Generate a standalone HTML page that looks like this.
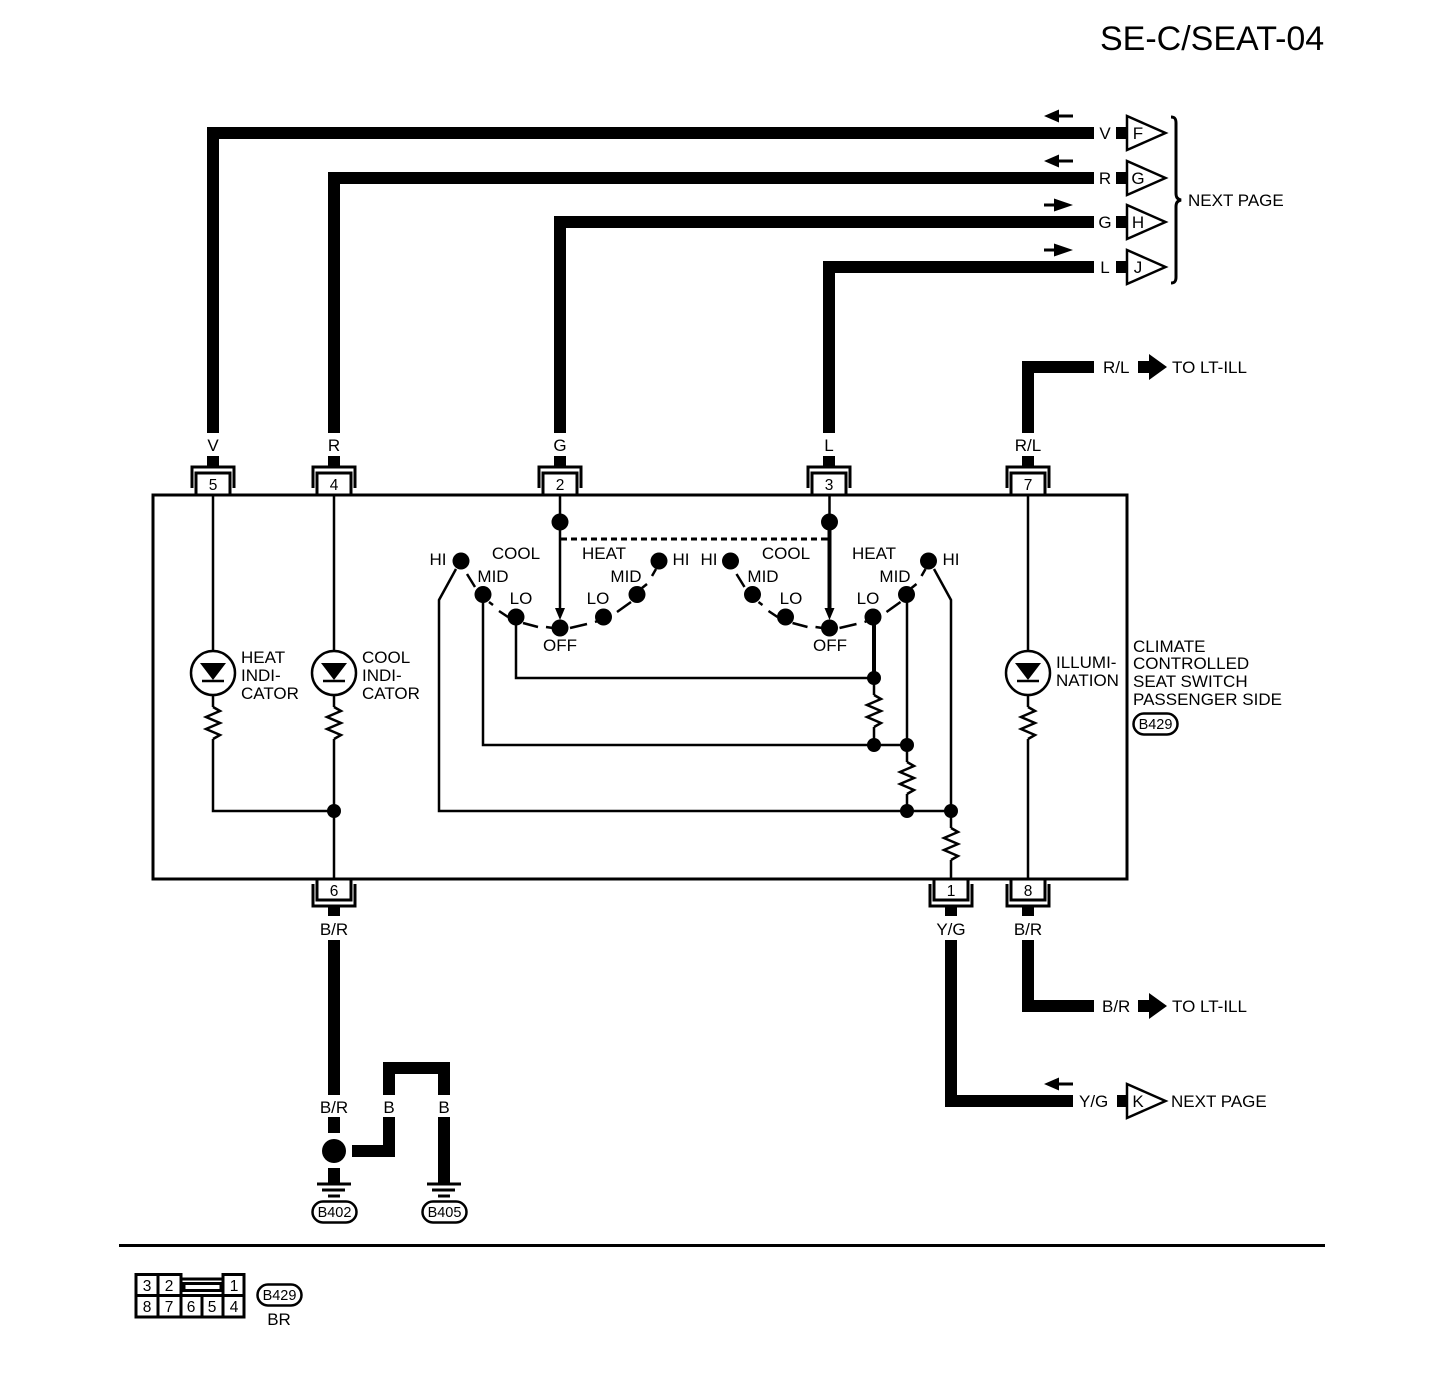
<!DOCTYPE html>
<html>
<head>
<meta charset="utf-8">
<style>
html,body{margin:0;padding:0;background:#fff}
svg{display:block}
text{font-family:"Liberation Sans",sans-serif;font-size:17px;fill:#000}
.m{text-anchor:middle}
.n{font-size:15.5px;text-anchor:middle}
.o{font-size:14.5px;text-anchor:middle}
.w{fill:none;stroke:#000;stroke-width:12;stroke-linejoin:miter}
.t{fill:none;stroke:#000;stroke-width:2.5;stroke-linejoin:miter}
.h{fill:none;stroke:#000;stroke-width:3}
</style>
</head>
<body>
<svg width="1456" height="1396" viewBox="0 0 1456 1396" xmlns="http://www.w3.org/2000/svg">
<defs>
<g id="ct">
  <path class="h" d="M-21 -7V-28H21V-7"/>
  <path class="h" d="M-17 0V-22H17V0"/>
  <rect x="-6" y="-39" width="12" height="11"/>
</g>
<g id="cb">
  <path class="h" d="M-21 5V27H21V5"/>
  <path class="h" d="M-17 0V21H17V0"/>
  <rect x="-6" y="27" width="12" height="10"/>
</g>
<path id="res" class="t" d="M0 0L7 4L-7 10L7 16L-7 22L7 28L0 32"/>
<g id="led">
  <circle cx="0" cy="0" r="22" fill="#fff" stroke="#000" stroke-width="2.5"/>
  <path d="M-13 -10H13L0 7Z"/>
  <path class="t" d="M-11 8H11"/>
</g>
<g id="gnd">
  <path class="h" d="M-17 0H17M-12 6H11M-6 12H6"/>
</g>
<path id="la" d="M0 0L15 -6.500V-1.500H29V1.500H15V6.500Z"/>
<path id="ra" d="M29 0L10 -6.500V-1.500H0V1.500H10V6.500Z"/>
<path id="fat" d="M0 -6H11V-13L29 0L11 13V6H0Z"/>
<path id="tri" fill="#fff" stroke="#000" stroke-width="2.500" d="M0 -17L38.500 0L0 17Z"/>
<g id="sw">
  <g fill="#000">
    <circle cx="461" cy="561" r="8.500"/><circle cx="483" cy="594.500" r="8.500"/><circle cx="516" cy="617" r="8.500"/>
    <circle cx="560" cy="628" r="8.500"/><circle cx="603.500" cy="617" r="8.500"/><circle cx="637" cy="594.500" r="8.500"/>
    <circle cx="659" cy="561" r="8.500"/><circle cx="560" cy="522" r="8.500"/>
  </g>
  <path class="t" d="M467 574L475 587M489 602L493 605M499 611L508 617M523 623L538 627M546 627L553 628M570 628L587 624M595 622L598 621M617 612L631 602M642 588L647 584M652 576L656 569"/>
  <path class="t" d="M560 495V610"/>
  <path d="M555 608H565L560 620Z"/>
</g>
</defs>

<text x="1100" y="50" style="font-size:34px">SE-C/SEAT-04</text>

<!-- thick wires -->
<path class="w" d="M213 433V133H1094"/>
<path class="w" d="M334 433V178H1094"/>
<path class="w" d="M560 433V222H1094"/>
<path class="w" d="M829 433V267H1094"/>
<path class="w" d="M1028 433V367H1094"/>
<path class="w" d="M1028 940V1006H1094"/>
<path class="w" d="M951 940V1101H1073"/>
<path class="w" d="M334 940V1095M334 1117V1133M334 1168V1184"/>
<path class="w" d="M352 1151H389V1117M389 1095V1068H444V1095M444 1117V1184"/>

<!-- wire end stubs, triangles -->
<rect x="1116" y="127" width="11" height="12"/>
<rect x="1116" y="172" width="11" height="12"/>
<rect x="1116" y="216" width="11" height="12"/>
<rect x="1116" y="261" width="11" height="12"/>
<rect x="1117" y="1095" width="10" height="12"/>
<use href="#tri" x="1127" y="133"/>
<use href="#tri" x="1127" y="178"/>
<use href="#tri" x="1127" y="222"/>
<use href="#tri" x="1127" y="267"/>
<use href="#tri" x="1127" y="1101"/>
<text class="m" x="1138" y="139">F</text>
<text class="m" x="1138" y="184">G</text>
<text class="m" x="1138" y="228">H</text>
<text class="m" x="1138" y="273">J</text>
<text class="m" x="1138" y="1107">K</text>
<text class="m" x="1105" y="139">V</text>
<text class="m" x="1105" y="184">R</text>
<text class="m" x="1105" y="228">G</text>
<text class="m" x="1105" y="273">L</text>

<use href="#la" x="1044" y="116"/>
<use href="#la" x="1044" y="161"/>
<use href="#ra" x="1044" y="205"/>
<use href="#ra" x="1044" y="250"/>
<use href="#la" x="1044" y="1084"/>

<path class="h" d="M1171 117C1175 117 1176 119 1176 123V193C1176 197 1177 199 1181 200C1177 201 1176 203 1176 207V277C1176 281 1175 283 1171 283"/>
<text x="1188" y="206">NEXT PAGE</text>

<text x="1103" y="373">R/L</text>
<use href="#fat" x="1138" y="367"/>
<text x="1172" y="373">TO LT-ILL</text>
<text x="1102" y="1012">B/R</text>
<use href="#fat" x="1138" y="1006"/>
<text x="1172" y="1012">TO LT-ILL</text>
<text x="1079" y="1107">Y/G</text>
<text x="1171" y="1107">NEXT PAGE</text>

<!-- main box -->
<rect x="153" y="495" width="974" height="384" fill="#fff" stroke="#000" stroke-width="3"/>

<!-- connectors -->
<use href="#ct" x="213" y="495"/>
<use href="#ct" x="334" y="495"/>
<use href="#ct" x="560" y="495"/>
<use href="#ct" x="829" y="495"/>
<use href="#ct" x="1028" y="495"/>
<use href="#cb" x="334" y="879"/>
<use href="#cb" x="951" y="879"/>
<use href="#cb" x="1028" y="879"/>
<text class="n" x="213" y="490">5</text>
<text class="n" x="334" y="490">4</text>
<text class="n" x="560" y="490">2</text>
<text class="n" x="829" y="490">3</text>
<text class="n" x="1028" y="490">7</text>
<text class="n" x="334" y="896">6</text>
<text class="n" x="951" y="896">1</text>
<text class="n" x="1028" y="896">8</text>

<text class="m" x="213" y="451">V</text>
<text class="m" x="334" y="451">R</text>
<text class="m" x="560" y="451">G</text>
<text class="m" x="829" y="451">L</text>
<text class="m" x="1028" y="451">R/L</text>
<text class="m" x="334" y="935">B/R</text>
<text class="m" x="951" y="935">Y/G</text>
<text class="m" x="1028" y="935">B/R</text>

<!-- indicator branches -->
<path class="t" d="M213 495V707M213 739V811H334M334 495V707M334 739V879"/>
<path class="t" d="M1028 495V707M1028 739V879"/>
<use href="#res" x="213" y="707"/>
<use href="#res" x="334" y="707"/>
<use href="#res" x="1028" y="707"/>
<use href="#led" x="213" y="673"/>
<use href="#led" x="334" y="673"/>
<use href="#led" x="1028" y="673"/>
<circle cx="334" cy="811" r="7"/>

<text x="241" y="663">HEAT</text>
<text x="241" y="681">INDI-</text>
<text x="241" y="699">CATOR</text>
<text x="362" y="663">COOL</text>
<text x="362" y="681">INDI-</text>
<text x="362" y="699">CATOR</text>
<text x="1056" y="668">ILLUMI-</text>
<text x="1056" y="686">NATION</text>
<text x="1133" y="652">CLIMATE</text>
<text x="1133" y="669">CONTROLLED</text>
<text x="1133" y="687">SEAT SWITCH</text>
<text x="1133" y="705">PASSENGER SIDE</text>
<rect x="1133.500" y="713.500" width="44" height="21" rx="10.500" fill="#fff" stroke="#000" stroke-width="2.500"/>
<text class="o" x="1155.500" y="729">B429</text>

<!-- switches -->
<use href="#sw"/>
<use href="#sw" x="269.500"/>
<path d="M561 537.500h6v3h-6zM571 537.500h6v3h-6zM581 537.500h6v3h-6zM591 537.500h6v3h-6zM601 537.500h6v3h-6zM611 537.500h6v3h-6zM621 537.500h6v3h-6zM631 537.500h6v3h-6zM641 537.500h6v3h-6zM651 537.500h6v3h-6zM661 537.500h6v3h-6zM671 537.500h6v3h-6zM681 537.500h6v3h-6zM691 537.500h6v3h-6zM701 537.500h6v3h-6zM711 537.500h6v3h-6zM721 537.500h6v3h-6zM731 537.500h6v3h-6zM741 537.500h6v3h-6zM751 537.500h6v3h-6zM761 537.500h6v3h-6zM771 537.500h6v3h-6zM781 537.500h6v3h-6zM791 537.500h6v3h-6zM801 537.500h6v3h-6zM811 537.500h6v3h-6zM821 537.500h8v3h-8z"/>
<path d="M827.500 522h4v88h-4z"/>

<text class="m" x="438" y="565">HI</text>
<text class="m" x="516" y="559">COOL</text>
<text class="m" x="493" y="582">MID</text>
<text class="m" x="521" y="604">LO</text>
<text class="m" x="560" y="651">OFF</text>
<text class="m" x="604" y="559">HEAT</text>
<text class="m" x="626" y="582">MID</text>
<text class="m" x="598" y="604">LO</text>
<text class="m" x="681" y="565">HI</text>
<text class="m" x="709" y="565">HI</text>
<text class="m" x="786" y="559">COOL</text>
<text class="m" x="763" y="582">MID</text>
<text class="m" x="791" y="604">LO</text>
<text class="m" x="830" y="651">OFF</text>
<text class="m" x="874" y="559">HEAT</text>
<text class="m" x="895" y="582">MID</text>
<text class="m" x="868" y="604">LO</text>
<text class="m" x="951" y="565">HI</text>

<!-- switch wiring -->
<path class="t" d="M516 617V678H874"/>
<path d="M872 617h4v61h-4z"/>
<path class="t" d="M874 678V695M874 727V745"/>
<use href="#res" x="874" y="695"/>
<path class="t" d="M483 595V745H907"/>
<path class="t" d="M907 595V762M907 794V811"/>
<use href="#res" x="907" y="762"/>
<path class="t" d="M456 569L439 600V811H951"/>
<path class="t" d="M934 569L951 600V828M951 860V879"/>
<use href="#res" x="951" y="828"/>
<circle cx="874" cy="678" r="7"/>
<circle cx="874" cy="745" r="7"/>
<circle cx="907" cy="745" r="7"/>
<circle cx="907" cy="811" r="7"/>
<circle cx="951" cy="811" r="7"/>

<!-- ground -->
<circle cx="334" cy="1151" r="12"/>
<text class="m" x="334" y="1113">B/R</text>
<text class="m" x="389" y="1113">B</text>
<text class="m" x="444" y="1113">B</text>
<use href="#gnd" x="334" y="1184"/>
<use href="#gnd" x="444" y="1184"/>
<rect x="312.500" y="1201.500" width="44" height="21" rx="10.500" fill="#fff" stroke="#000" stroke-width="2.500"/>
<text class="o" x="334.500" y="1217">B402</text>
<rect x="422.500" y="1201.500" width="44" height="21" rx="10.500" fill="#fff" stroke="#000" stroke-width="2.500"/>
<text class="o" x="444.500" y="1217">B405</text>

<!-- footer -->
<rect x="119" y="1244" width="1206" height="3"/>
<path class="h" d="M136 1274.500H181V1279H223V1274.500H244V1317H136ZM136 1295.500H244M158 1274.500V1317M181 1274.500V1317M202 1295.500V1317M223 1274.500V1317"/>
<rect x="184" y="1283.500" width="37" height="7" fill="none" stroke="#000" stroke-width="3"/>
<text class="n" x="147" y="1291">3</text>
<text class="n" x="169" y="1291">2</text>
<text class="n" x="234" y="1291">1</text>
<text class="n" x="147" y="1312">8</text>
<text class="n" x="169" y="1312">7</text>
<text class="n" x="191" y="1312">6</text>
<text class="n" x="212" y="1312">5</text>
<text class="n" x="234" y="1312">4</text>
<rect x="257.500" y="1284.500" width="44" height="21" rx="10.500" fill="#fff" stroke="#000" stroke-width="2.500"/>
<text class="o" x="279.500" y="1300">B429</text>
<text class="m" x="279" y="1325">BR</text>
</svg>
</body>
</html>
